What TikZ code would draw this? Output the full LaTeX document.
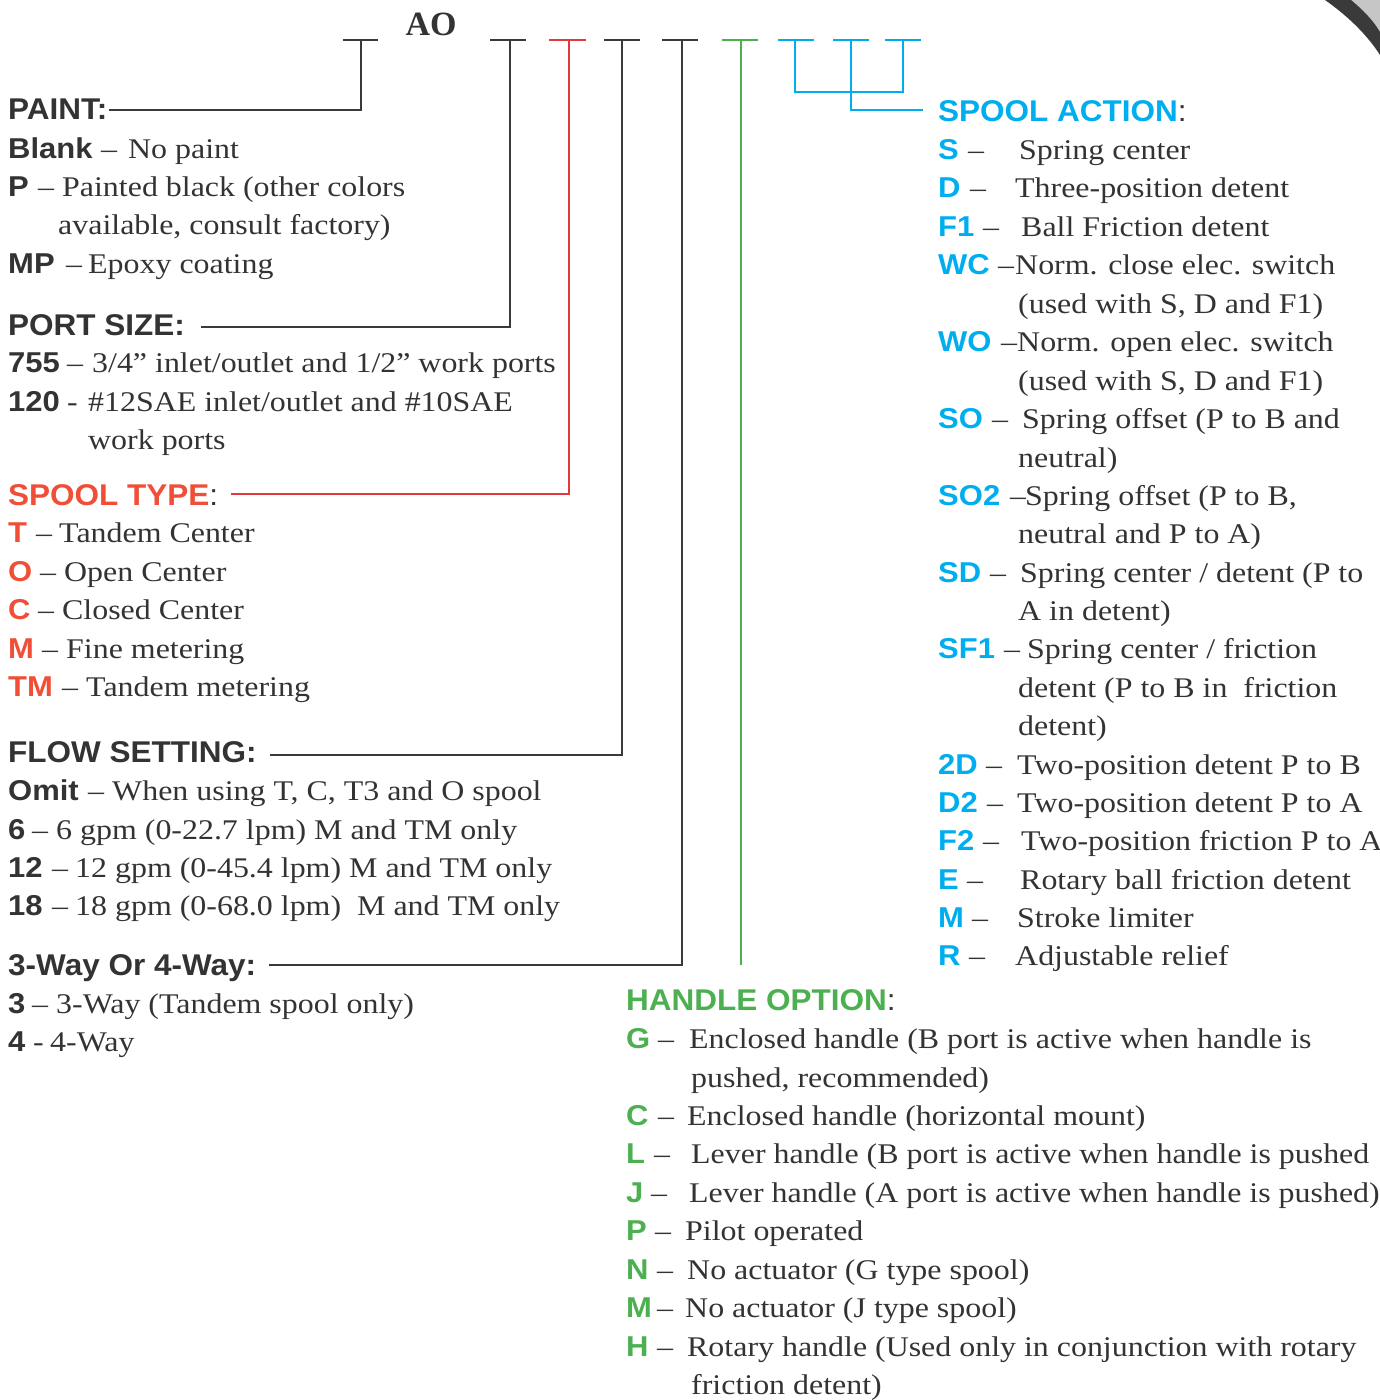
\documentclass[tikz,border=0pt]{standalone}
\usepackage{fontspec}
\setmainfont{Liberation Serif}[FakeStretch=1.12]
\newfontfamily\labfont{Liberation Sans}[FakeStretch=1.08]
\newfontfamily\hdfont{Liberation Sans}[FakeStretch=1.05]
\newfontfamily\aofont{Liberation Serif}
\definecolor{ink}{HTML}{333333}
\definecolor{lgray}{HTML}{3A3A3A}
\definecolor{rtxt}{HTML}{F04E37}
\definecolor{rline}{HTML}{E03A3E}
\definecolor{btxt}{HTML}{00AEEF}
\definecolor{gtxt}{HTML}{4CB050}
\newcounter{rw}
\tikzset{
  txt/.style={anchor=base west, inner sep=0pt, text=ink, font=\fontsize{28.5}{32}\selectfont},
  lab/.style={anchor=base west, inner sep=0pt, font=\labfont\bfseries\fontsize{28.7}{32}\selectfont},
  hd/.style={anchor=base west, inner sep=0pt, font=\hdfont\bfseries\fontsize{30}{34}\selectfont},
  conn/.style={line width=2.8pt},
}
% \itm{labx}{centery}{color}{label}{dashx}{dash}{textx}{text}
\newcommand\itm[8]{%
  \stepcounter{rw}%
  \node[lab,text=#3] (l\arabic{rw}) at (#1,#2+10) {#4};
  \node[txt] (d\arabic{rw}) at (#5,#2+10) {#6};
  \node[txt] (t\arabic{rw}) at (#7,#2+10) {#8};
}
\newcommand\cont[3]{%
  \stepcounter{rw}%
  \node[txt] (t\arabic{rw}) at (#1,#2+10) {#3};
}
\begin{document}
\begin{tikzpicture}[x=1pt,y=-1pt]
\useasboundingbox (0,0) rectangle (1380,1400);
% top-right corner decoration
\fill[gray!45] (1351,0) .. controls (1362,9) and (1373,20) .. (1380,32) -- (1380,0) -- cycle;
\fill[lgray] (1325,0) .. controls (1345,14) and (1366,33) .. (1380,55) -- (1380,32) .. controls (1373,20) and (1362,9) .. (1351,0) -- cycle;

% title
\node[anchor=base, inner sep=0pt, text=ink, font=\aofont\bfseries\fontsize{34}{36}\selectfont] (ao) at (431,35) {AO};

% ---------- headings ----------
\node[hd,text=ink] (paint) at (8,119) {PAINT:};
\node[hd,text=ink] (port) at (8,335) {PORT SIZE:};
\node[hd,text=rtxt] (spool) at (8,505) {SPOOL TYPE{\color{ink}\mdseries:}};
\node[hd,text=ink] (flow) at (8,762) {FLOW SETTING:};
\node[hd,text=ink] (way) at (8,975) {3-Way Or 4-Way:};
\node[hd,text=btxt] (action) at (938,121) {SPOOL ACTION{\color{ink}\mdseries:}};
\node[hd,text=gtxt] (handle) at (626,1010) {HANDLE OPTION{\color{ink}\mdseries:}};

% ---------- slot coordinates ----------
\coordinate (s1a) at (343,40); \coordinate (s1b) at (378,40); \coordinate (s1m) at (361,40); \coordinate (s1c) at (361,110);
\coordinate (s2a) at (490,40); \coordinate (s2b) at (526,40); \coordinate (s2m) at (510,40); \coordinate (s2c) at (510,327);
\coordinate (s3a) at (549,40); \coordinate (s3b) at (586,40); \coordinate (s3m) at (569,40); \coordinate (s3c) at (569,494);
\coordinate (s4a) at (604,40); \coordinate (s4b) at (640,40); \coordinate (s4m) at (622,40); \coordinate (s4c) at (622,755);
\coordinate (s5a) at (662,40); \coordinate (s5b) at (698,40); \coordinate (s5m) at (682,40); \coordinate (s5c) at (682,965);
\coordinate (s6a) at (722,40); \coordinate (s6b) at (758,40); \coordinate (s6m) at (741,40); \coordinate (s6c) at (741,965);
\coordinate (s7a) at (778,40); \coordinate (s7b) at (814,40); \coordinate (s7m) at (795,40); \coordinate (s7c) at (795,92);
\coordinate (s8a) at (833,40); \coordinate (s8b) at (869,40); \coordinate (s8m) at (851,40); \coordinate (s8c) at (851,110);
\coordinate (s9a) at (885,40); \coordinate (s9b) at (921,40); \coordinate (s9m) at (903,40); \coordinate (s9c) at (903,92);

% ---------- connectors ----------
\draw[conn,lgray] (s1a) -- (s1b);
\draw[conn,lgray] (s1m) -- (s1c) -- ([xshift=1pt]paint.east |- s1c);
\draw[conn,lgray] (s2a) -- (s2b);
\draw[conn,lgray] (s2m) -- (s2c) -- ([xshift=16pt]port.east |- s2c);
\draw[conn,rline] (s3a) -- (s3b);
\draw[conn,rline] (s3m) -- (s3c) -- ([xshift=13pt]spool.east |- s3c);
\draw[conn,lgray] (s4a) -- (s4b);
\draw[conn,lgray] (s4m) -- (s4c) -- ([xshift=13pt]flow.east |- s4c);
\draw[conn,lgray] (s5a) -- (s5b);
\draw[conn,lgray] (s5m) -- (s5c) -- ([xshift=13pt]way.east |- s5c);
\draw[conn,gtxt] (s6a) -- (s6b);
\draw[conn,gtxt] (s6m) -- (s6c);
\draw[conn,btxt] (s7a) -- (s7b);
\draw[conn,btxt] (s8a) -- (s8b);
\draw[conn,btxt] (s9a) -- (s9b);
\draw[conn,btxt] (s7m) -- (s7c) -- (s9c) -- (s9m);
\draw[conn,btxt] (s8m) -- (s8c) -- ([xshift=-15pt]action.west |- s8c);

% ---------- PAINT ----------
\itm{8}{148}{ink}{Blank}{101}{–}{128}{No paint}
\itm{8}{186}{ink}{P}{38}{–}{62}{Painted black (other colors}
\cont{58}{224}{available, consult factory)}
\itm{8}{263}{ink}{MP}{66}{–}{88}{Epoxy coating}
% ---------- PORT SIZE ----------
\itm{8}{362}{ink}{755}{67}{–}{92}{3/4” inlet/outlet and 1/2” work ports}
\itm{8}{401}{ink}{120}{67}{-}{88}{\#12SAE inlet/outlet and \#10SAE}
\cont{88}{439}{work ports}
% ---------- SPOOL TYPE ----------
\itm{8}{532}{rtxt}{T}{36}{–}{59}{Tandem Center}
\itm{8}{571}{rtxt}{O}{40}{–}{64}{Open Center}
\itm{8}{609}{rtxt}{C}{38}{–}{62}{Closed Center}
\itm{8}{648}{rtxt}{M}{42}{–}{66}{Fine metering}
\itm{8}{686}{rtxt}{TM}{62}{–}{86}{Tandem metering}
% ---------- FLOW SETTING ----------
\itm{8}{790}{ink}{Omit}{88}{–}{112}{When using T, C, T3 and O spool}
\itm{8}{829}{ink}{6}{32}{–}{56}{6 gpm (0-22.7 lpm) M and TM only}
\itm{8}{867}{ink}{12}{52}{–}{75}{12 gpm (0-45.4 lpm) M and TM only}
\itm{8}{905}{ink}{18}{52}{–}{75}{18 gpm (0-68.0 lpm)\ \ M and TM only}
% ---------- 3/4 WAY ----------
\itm{8}{1003}{ink}{3}{32}{–}{56}{3-Way (Tandem spool only)}
\itm{8}{1041}{ink}{4}{33}{-}{50}{4-Way}

% ---------- SPOOL ACTION ----------
\itm{938}{149}{btxt}{S}{968}{–}{1019}{Spring center}
\itm{938}{187}{btxt}{D}{970}{–}{1015}{Three-position detent}
\itm{938}{226}{btxt}{F1}{983}{–}{1021}{Ball Friction detent}
\itm{938}{264}{btxt}{WC}{998}{–}{1015}{Norm. close elec. switch}
\cont{1018}{303}{(used with S, D and F1)}
\itm{938}{341}{btxt}{WO}{1001}{–}{1017}{Norm. open elec. switch}
\cont{1018}{380}{(used with S, D and F1)}
\itm{938}{418}{btxt}{SO}{992}{–}{1022}{Spring offset (P to B and}
\cont{1018}{457}{neutral)}
\itm{938}{495}{btxt}{SO2}{1010}{–}{1025}{Spring offset (P to B,}
\cont{1018}{533}{neutral and P to A)}
\itm{938}{572}{btxt}{SD}{990}{–}{1020}{Spring center / detent (P to}
\cont{1018}{610}{A in detent)}
\itm{938}{648}{btxt}{SF1}{1004}{–}{1027}{Spring center / friction}
\cont{1018}{687}{detent (P to B in\ \ friction}
\cont{1018}{725}{detent)}
\itm{938}{764}{btxt}{2D}{986}{–}{1017}{Two-position detent P to B}
\itm{938}{802}{btxt}{D2}{987}{–}{1017}{Two-position detent P to A}
\itm{938}{840}{btxt}{F2}{983}{–}{1021}{Two-position friction P to A}
\itm{938}{879}{btxt}{E}{967}{–}{1020}{Rotary ball friction detent}
\itm{938}{917}{btxt}{M}{972}{–}{1017}{Stroke limiter}
\itm{938}{955}{btxt}{R}{969}{–}{1015}{Adjustable relief}

% ---------- HANDLE OPTION ----------
\itm{626}{1038}{gtxt}{G}{658}{–}{689}{Enclosed handle (B port is active when handle is}
\cont{691}{1077}{pushed, recommended)}
\itm{626}{1115}{gtxt}{C}{658}{–}{687}{Enclosed handle (horizontal mount)}
\itm{626}{1153}{gtxt}{L}{654}{–}{691}{Lever handle (B port is active when handle is pushed}
\itm{626}{1192}{gtxt}{J}{651}{–}{689}{Lever handle (A port is active when handle is pushed)}
\itm{626}{1230}{gtxt}{P}{655}{–}{685}{Pilot operated}
\itm{626}{1269}{gtxt}{N}{657}{–}{687}{No actuator (G type spool)}
\itm{626}{1307}{gtxt}{M}{657}{–}{685}{No actuator (J type spool)}
\itm{626}{1346}{gtxt}{H}{657}{–}{687}{Rotary handle (Used only in conjunction with rotary}
\cont{691}{1384}{friction detent)}
\end{tikzpicture}
\end{document}
